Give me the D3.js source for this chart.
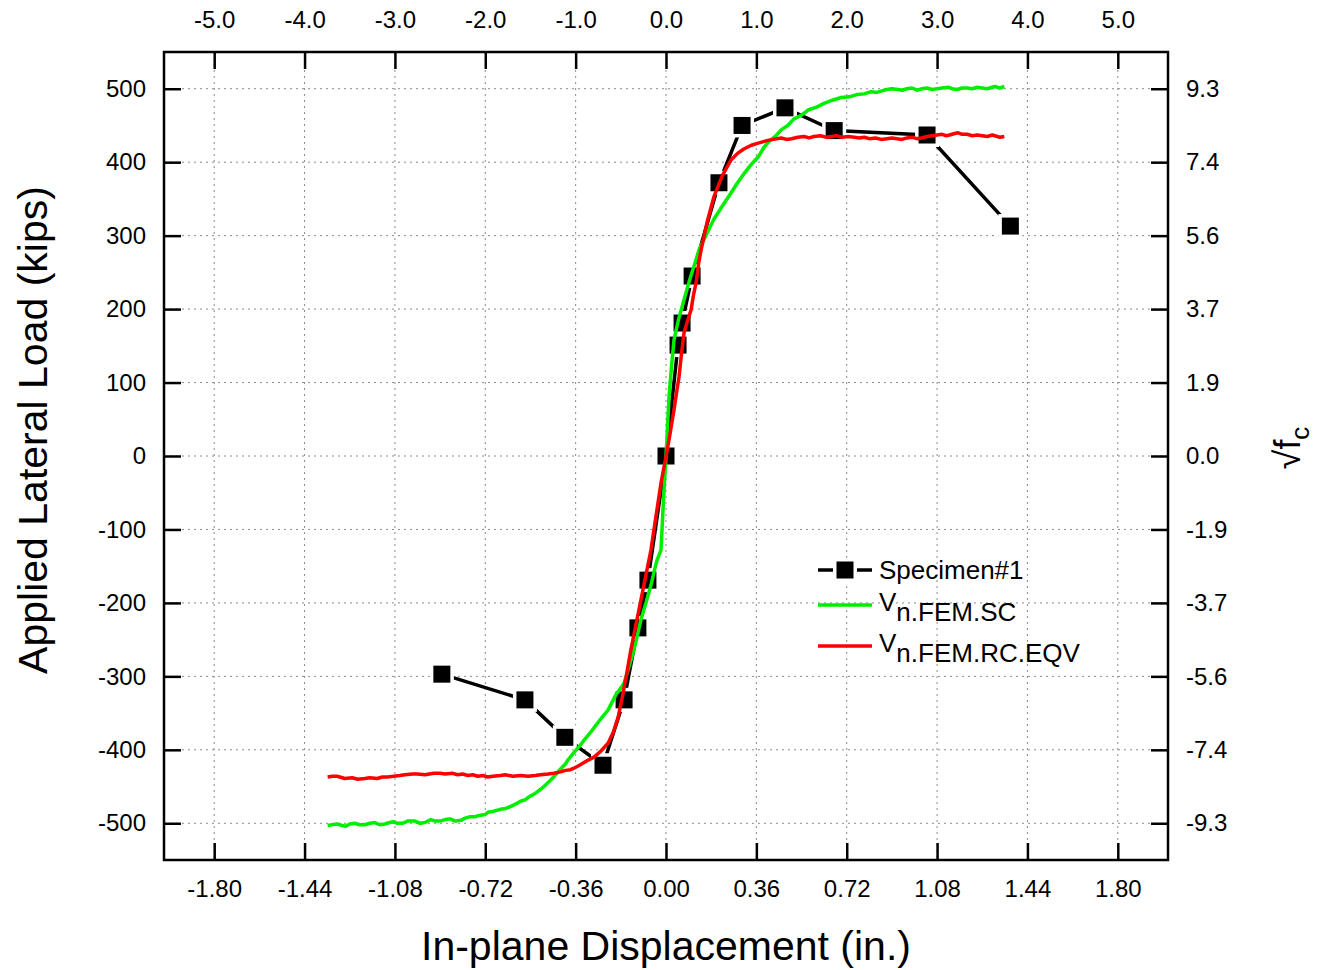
<!DOCTYPE html>
<html>
<head>
<meta charset="utf-8">
<script src="https://cdn.jsdelivr.net/npm/d3@7"></script>
<style>
  body { margin: 0; background: #fff; }
  svg { font-family: "Liberation Sans", Arial, sans-serif; }
</style>
</head>
<body>
<div id="chart"></div>
<script>
// chart data
const specimen = [
  [-0.893, -297], [-0.562, -332], [-0.403, -383], [-0.251, -421],
  [-0.167, -332], [-0.112, -234], [-0.072, -169], [0.000, 0],
  [0.048, 151], [0.064, 181], [0.104, 245], [0.211, 372],
  [0.303, 450], [0.474, 474], [0.670, 443], [1.040, 437], [1.372, 313]
];

const femSC = [
  [-1.348, -503], [-1.33, -502], [-1.31, -501], [-1.29, -503], [-1.276, -504],
  [-1.26, -501], [-1.24, -500], [-1.22, -502], [-1.20, -502], [-1.18, -500],
  [-1.16, -499], [-1.14, -502], [-1.12, -501], [-1.10, -499], [-1.085, -498],
  [-1.07, -500], [-1.05, -500], [-1.03, -497], [-1.00, -497], [-0.98, -500],
  [-0.96, -499], [-0.937, -495], [-0.92, -497], [-0.90, -497], [-0.88, -495],
  [-0.86, -494], [-0.84, -497], [-0.817, -496], [-0.80, -493], [-0.78, -491],
  [-0.76, -491], [-0.74, -489], [-0.72, -488], [-0.71, -485], [-0.69, -484],
  [-0.66, -481], [-0.64, -480], [-0.618, -477], [-0.60, -474], [-0.58, -470],
  [-0.56, -468], [-0.550, -465], [-0.52, -459], [-0.50, -454], [-0.48, -448],
  [-0.459, -441], [-0.44, -434], [-0.42, -426], [-0.40, -419], [-0.391, -414],
  [-0.37, -405], [-0.36, -401], [-0.34, -393], [-0.327, -387], [-0.30, -376],
  [-0.28, -367], [-0.26, -358], [-0.231, -346], [-0.21, -332], [-0.20, -325],
  [-0.18, -316], [-0.167, -309], [-0.15, -290], [-0.128, -264], [-0.115, -246],
  [-0.100, -223], [-0.080, -200], [-0.060, -176], [-0.045, -154], [-0.036, -142],
  [-0.020, -128], [-0.010, -60], [0.000, -1], [0.006, 40], [0.012, 80],
  [0.022, 122], [0.032, 158], [0.050, 186], [0.072, 213], [0.086, 230],
  [0.100, 246], [0.115, 262], [0.132, 281], [0.16, 301], [0.19, 322],
  [0.22, 338], [0.259, 358], [0.285, 372], [0.31, 384], [0.34, 397],
  [0.367, 407], [0.39, 420], [0.41, 428], [0.435, 435], [0.459, 444],
  [0.485, 450], [0.51, 459], [0.54, 464], [0.566, 471], [0.60, 475],
  [0.63, 480], [0.66, 484], [0.698, 488], [0.73, 489], [0.76, 492],
  [0.79, 493], [0.817, 496], [0.84, 495], [0.86, 497], [0.88, 499],
  [0.90, 500], [0.925, 499], [0.94, 498], [0.96, 500], [0.98, 501],
  [1.00, 498], [1.02, 500], [1.04, 501], [1.06, 499], [1.08, 500],
  [1.10, 501], [1.124, 502], [1.14, 500], [1.16, 499], [1.18, 501],
  [1.20, 501], [1.22, 500], [1.24, 502], [1.26, 501], [1.28, 500],
  [1.30, 502], [1.31, 503], [1.33, 501], [1.348, 503]
];

const femRC = [
  [-1.348, -437], [-1.33, -436], [-1.31, -436], [-1.29, -438], [-1.28, -439],
  [-1.25, -438], [-1.228, -440], [-1.20, -439], [-1.18, -438], [-1.15, -439],
  [-1.13, -437], [-1.11, -437], [-1.085, -436], [-1.06, -435], [-1.04, -434],
  [-1.01, -433], [-0.99, -433], [-0.96, -434], [-0.925, -432], [-0.90, -432],
  [-0.88, -433], [-0.85, -432], [-0.83, -434], [-0.81, -433], [-0.789, -435],
  [-0.77, -434], [-0.75, -436], [-0.73, -435], [-0.710, -437], [-0.69, -436],
  [-0.66, -435], [-0.64, -434], [-0.61, -436], [-0.58, -435], [-0.550, -436],
  [-0.52, -435], [-0.50, -434], [-0.47, -433], [-0.447, -432], [-0.42, -430],
  [-0.40, -428], [-0.38, -427], [-0.367, -425], [-0.35, -422], [-0.33, -418],
  [-0.31, -414], [-0.287, -410], [-0.26, -402], [-0.231, -391], [-0.21, -376],
  [-0.191, -356], [-0.175, -330], [-0.159, -301], [-0.140, -264], [-0.120, -230],
  [-0.100, -196], [-0.080, -162], [-0.060, -128], [-0.040, -82], [-0.020, -37],
  [0.000, -1], [0.016, 30], [0.032, 63], [0.042, 86], [0.052, 108],
  [0.062, 140], [0.072, 168], [0.086, 184], [0.100, 199], [0.110, 220],
  [0.120, 236], [0.130, 262], [0.140, 281], [0.165, 320], [0.191, 353],
  [0.225, 382], [0.259, 403], [0.285, 412], [0.31, 418], [0.34, 423],
  [0.367, 426], [0.41, 430], [0.459, 433], [0.48, 431], [0.50, 432],
  [0.525, 434], [0.55, 435], [0.57, 433], [0.59, 435], [0.615, 436],
  [0.64, 434], [0.66, 435], [0.68, 436], [0.70, 434], [0.726, 435],
  [0.75, 434], [0.77, 433], [0.79, 434], [0.81, 432], [0.835, 433],
  [0.857, 431], [0.88, 432], [0.90, 433], [0.92, 432], [0.94, 431],
  [0.96, 433], [0.98, 434], [1.00, 432], [1.017, 433], [1.04, 435],
  [1.06, 436], [1.08, 437], [1.10, 438], [1.115, 436], [1.13, 437],
  [1.15, 439], [1.164, 440], [1.18, 438], [1.20, 438], [1.22, 436],
  [1.24, 437], [1.26, 436], [1.28, 435], [1.30, 437], [1.31, 436],
  [1.33, 434], [1.348, 435]
];

const bottomTicks = [-1.80, -1.44, -1.08, -0.72, -0.36, 0.00, 0.36, 0.72, 1.08, 1.44, 1.80];
const topTicks = [-5, -4, -3, -2, -1, 0, 1, 2, 3, 4, 5];
const leftTicks = [-500, -400, -300, -200, -100, 0, 100, 200, 300, 400, 500];
const rightLabels = ['-9.3', '-7.4', '-5.6', '-3.7', '-1.9', '0.0', '1.9', '3.7', '5.6', '7.4', '9.3'];

const W = 1320, H = 970;
const margin = {top: 52, right: 152, bottom: 110, left: 164};
const w = W - margin.left - margin.right,
      h = H - margin.top - margin.bottom;

const x = d3.scaleLinear().domain([-2, 2]).range([0, w]);
const xTop = d3.scaleLinear().domain([-2 / 0.36, 2 / 0.36]).range([0, w]);
const y = d3.scaleLinear().domain([-550, 550]).range([h, 0]);

// plain hyphen for negatives, like the reference
const hyph = (f) => (d) => f(d).replace('\u2212', '-');

const svg = d3.select('#chart').append('svg')
    .attr('width', W)
    .attr('height', H);

const g = svg.append('g')
    .attr('transform', 'translate(' + margin.left + ',' + margin.top + ')');

// dotted grid
g.append('g').selectAll('line')
    .data(bottomTicks)
    .enter().append('line')
    .attr('x1', d => x(d)).attr('x2', d => x(d))
    .attr('y1', 0).attr('y2', h)
    .attr('stroke', '#8a8a8a').attr('stroke-width', 1).attr('stroke-dasharray', '2,4');
g.append('g').selectAll('line')
    .data(leftTicks)
    .enter().append('line')
    .attr('y1', d => y(d)).attr('y2', d => y(d))
    .attr('x1', 0).attr('x2', w)
    .attr('stroke', '#8a8a8a').attr('stroke-width', 1).attr('stroke-dasharray', '2,4');

// axes, ticks pointing inward
const tickLen = 17;
function styleAxis(sel) {
    sel.select('.domain').remove();
    sel.selectAll('.tick line').attr('stroke', '#000').attr('stroke-width', 2.5);
    sel.selectAll('.tick text').attr('fill', '#000').style('font-size', '24px');
}

g.append('g')
    .attr('transform', 'translate(0,' + h + ')')
    .call(d3.axisBottom(x).tickValues(bottomTicks).tickSize(-tickLen).tickPadding(20)
        .tickFormat(hyph(d3.format('.2f'))))
    .call(styleAxis);

g.append('g')
    .call(d3.axisTop(xTop).tickValues(topTicks).tickSize(-tickLen).tickPadding(24)
        .tickFormat(hyph(d3.format('.1f'))))
    .call(styleAxis);

g.append('g')
    .call(d3.axisLeft(y).tickValues(leftTicks).tickSize(-tickLen).tickPadding(18)
        .tickFormat(hyph(d3.format('d'))))
    .call(styleAxis);

g.append('g')
    .attr('transform', 'translate(' + w + ',0)')
    .call(d3.axisRight(y).tickValues(leftTicks).tickSize(-tickLen).tickPadding(18)
        .tickFormat((d, i) => rightLabels[i]))
    .call(styleAxis);

// frame
g.append('rect')
    .attr('width', w).attr('height', h)
    .attr('fill', 'none').attr('stroke', '#000').attr('stroke-width', 2.5);

const line = d3.line().x(d => x(d[0])).y(d => y(d[1]));

// specimen line + square markers
g.append('path')
    .datum(specimen)
    .attr('d', line)
    .attr('fill', 'none').attr('stroke', '#000').attr('stroke-width', 3.5);

const sq = 17, halo = 24;
g.append('g').selectAll('rect')
    .data(specimen)
    .enter().append('rect')
    .attr('x', d => x(d[0]) - halo / 2).attr('y', d => y(d[1]) - halo / 2)
    .attr('width', halo).attr('height', halo)
    .attr('fill', '#fff');
g.append('g').selectAll('rect')
    .data(specimen)
    .enter().append('rect')
    .attr('x', d => x(d[0]) - sq / 2).attr('y', d => y(d[1]) - sq / 2)
    .attr('width', sq).attr('height', sq)
    .attr('fill', '#000');

g.append('path')
    .datum(femSC)
    .attr('d', line)
    .attr('fill', 'none').attr('stroke', '#00ee00').attr('stroke-width', 3.5)
    .attr('stroke-linejoin', 'round');

g.append('path')
    .datum(femRC)
    .attr('d', line)
    .attr('fill', 'none').attr('stroke', '#ff0000').attr('stroke-width', 3.5)
    .attr('stroke-linejoin', 'round');

// legend
const lg = svg.append('g').attr('transform', 'translate(818,570)');
lg.append('line').attr('x1', 0).attr('x2', 54).attr('y1', 0).attr('y2', 0)
    .attr('stroke', '#000').attr('stroke-width', 3.5);
lg.append('rect').attr('x', 27 - halo / 2).attr('y', -halo / 2).attr('width', halo).attr('height', halo).attr('fill', '#fff');
lg.append('rect').attr('x', 27 - sq / 2).attr('y', -sq / 2).attr('width', sq).attr('height', sq).attr('fill', '#000');
lg.append('text').attr('x', 61).attr('y', 9).style('font-size', '26px').text('Specimen#1');

lg.append('line').attr('x1', 0).attr('x2', 54).attr('y1', 35).attr('y2', 35)
    .attr('stroke', '#00ee00').attr('stroke-width', 3.5);
const t2 = lg.append('text').attr('x', 61).attr('y', 41).style('font-size', '26px');
t2.append('tspan').text('V');
t2.append('tspan').attr('dy', 10).text('n.FEM.SC');

lg.append('line').attr('x1', 0).attr('x2', 54).attr('y1', 76).attr('y2', 76)
    .attr('stroke', '#ff0000').attr('stroke-width', 3.5);
const t3 = lg.append('text').attr('x', 61).attr('y', 82).style('font-size', '26px');
t3.append('tspan').text('V');
t3.append('tspan').attr('dy', 10).text('n.FEM.RC.EQV');

// axis titles
svg.append('text')
    .attr('transform', 'translate(47,' + (margin.top + h / 2 - 26) + ') rotate(-90)')
    .attr('text-anchor', 'middle')
    .style('font-size', '41px')
    .text('Applied Lateral Load (kips)');

svg.append('text')
    .attr('x', margin.left + w / 2).attr('y', 960)
    .attr('text-anchor', 'middle')
    .style('font-size', '41px')
    .text('In-plane Displacement (in.)');

const rt = svg.append('text')
    .attr('transform', 'translate(1300,' + (margin.top + h / 2 - 8) + ') rotate(-90)')
    .attr('text-anchor', 'middle')
    .style('font-size', '36px');
rt.append('tspan').text('\u221Af');
rt.append('tspan').attr('dy', 9).style('font-size', '26px').text('c');
</script>
</body>
</html>
